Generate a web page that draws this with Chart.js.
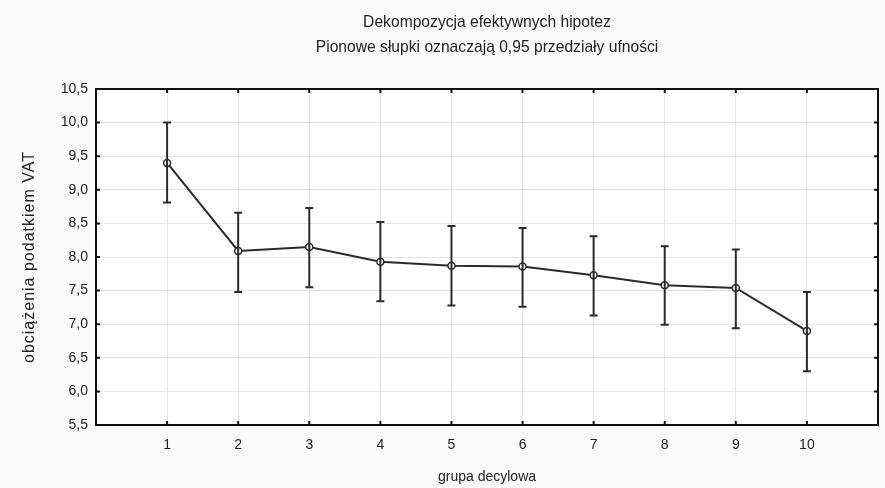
<!DOCTYPE html>
<html><head><meta charset="utf-8">
<script src="https://cdn.jsdelivr.net/npm/chart.js@4"></script>
<style>html,body{margin:0;padding:0;background:#fafafa;}canvas{display:block;}</style>
</head><body>
<canvas id="c" width="885" height="488"></canvas>
<script>
const groups = [1, 2, 3, 4, 5, 6, 7, 8, 9, 10];
const means = [9.40, 8.09, 8.15, 7.93, 7.87, 7.86, 7.73, 7.58, 7.54, 6.90];
const lower = [8.81, 7.48, 7.55, 7.34, 7.28, 7.26, 7.13, 6.99, 6.94, 6.30];
const upper = [10.00, 8.66, 8.73, 8.52, 8.46, 8.43, 8.31, 8.16, 8.11, 7.48];
const titleLines = ['Dekompozycja efektywnych hipotez', 'Pionowe słupki oznaczają 0,95 przedziały ufności'];
const xTitle = 'grupa decylowa';
const yTitle = 'obciążenia podatkiem VAT';

const FONT = '"Liberation Sans", Arial, sans-serif';
const INK = '#2b2b2b';

const framePlugin = {
  id: 'frame',
  beforeDraw(chart) {
    const {ctx, chartArea: a} = chart;
    ctx.save();
    ctx.fillStyle = '#ffffff';
    ctx.fillRect(a.left, a.top, a.right - a.left, a.bottom - a.top);
    ctx.restore();
  },
  afterDatasetsDraw(chart) {
    const {ctx, scales} = chart;
    ctx.save();
    ctx.strokeStyle = INK;
    ctx.lineWidth = 2;
    groups.forEach((g, i) => {
      const x = scales.x.getPixelForValue(g);
      const y1 = scales.y.getPixelForValue(lower[i]);
      const y2 = scales.y.getPixelForValue(upper[i]);
      ctx.beginPath();
      ctx.moveTo(x, y1); ctx.lineTo(x, y2);
      ctx.moveTo(x - 4, y1); ctx.lineTo(x + 4, y1);
      ctx.moveTo(x - 4, y2); ctx.lineTo(x + 4, y2);
      ctx.stroke();
    });
    ctx.restore();
  },
  afterDraw(chart) {
    const {ctx, chartArea: a, scales} = chart;
    ctx.save();
    ctx.strokeStyle = '#111';
    ctx.lineWidth = 2;
    ctx.strokeRect(a.left, a.top, a.right - a.left, a.bottom - a.top);
    ctx.beginPath();
    scales.x.ticks.forEach(t => {
      if (t.value < 1 || t.value > 10) return;
      const x = scales.x.getPixelForValue(t.value);
      ctx.moveTo(x, a.bottom); ctx.lineTo(x, a.bottom - 4);
      ctx.moveTo(x, a.top); ctx.lineTo(x, a.top + 4);
    });
    scales.y.ticks.forEach(t => {
      const y = scales.y.getPixelForValue(t.value);
      ctx.moveTo(a.left, y); ctx.lineTo(a.left + 4, y);
      ctx.moveTo(a.right, y); ctx.lineTo(a.right - 4, y);
    });
    ctx.stroke();
    // titles
    ctx.fillStyle = '#222';
    ctx.textAlign = 'center';
    ctx.textBaseline = 'middle';
    const cx = (a.left + a.right) / 2;
    ctx.save();
    ctx.translate(cx, 0);
    ctx.scale(0.92, 1);
    ctx.font = '17px ' + FONT;
    ctx.fillText(titleLines[0], 0, 22);
    ctx.fillText(titleLines[1], 0, 47);
    ctx.restore();
    // y title
    ctx.save();
    ctx.translate(30, (a.top + a.bottom) / 2);
    ctx.rotate(-Math.PI / 2);
    ctx.font = '16px ' + FONT;
    ctx.letterSpacing = '1px';
    ctx.fillText(yTitle, 0, 0);
    ctx.restore();
    ctx.restore();
  }
};

new Chart(document.getElementById('c'), {
  type: 'line',
  data: {
    datasets: [{
      data: groups.map((g, i) => ({x: g, y: means[i]})),
      borderColor: INK,
      borderWidth: 2,
      pointRadius: 3.5,
      pointBorderWidth: 1.5,
      pointBackgroundColor: '#ffffff',
      pointBorderColor: INK,
      tension: 0,
      fill: false
    }]
  },
  options: {
    responsive: false,
    animation: false,
    devicePixelRatio: 1,
    layout: {padding: {top: 89, right: 7, bottom: 0, left: 0}},
    plugins: {legend: {display: false}, tooltip: {enabled: false}, title: {display: false}},
    scales: {
      x: {
        type: 'linear', min: 0, max: 11,
        afterFit(s) { s.height = 63; s.paddingLeft = 0; s.paddingRight = 0; },
        ticks: {
          stepSize: 1, padding: 12, color: '#222', font: {family: FONT, size: 14},
          callback: v => (v >= 1 && v <= 10) ? String(v) : ''
        },
        grid: {
          drawTicks: false,
          color: c => (c.tick && (c.tick.value === 0 || c.tick.value === 11)) ? 'rgba(0,0,0,0)' : '#e3e3e3',
          lineWidth: 1
        },
        border: {display: false},
        title: {display: true, text: xTitle, color: '#222', font: {family: FONT, size: 14}, padding: {top: 0, bottom: 2}}
      },
      y: {
        min: 5.5, max: 10.5,
        afterFit(s) { s.width = 96; },
        ticks: {
          stepSize: 0.5, padding: 8, color: '#222', font: {family: FONT, size: 14},
          callback: v => v.toFixed(1).replace('.', ',')
        },
        grid: {
          drawTicks: false,
          color: c => (c.tick && (c.tick.value === 5.5 || c.tick.value === 10.5)) ? 'rgba(0,0,0,0)' : '#e3e3e3',
          lineWidth: 1
        },
        border: {display: false},
        title: {display: false}
      }
    }
  },
  plugins: [framePlugin]
});
</script>
</body></html>
